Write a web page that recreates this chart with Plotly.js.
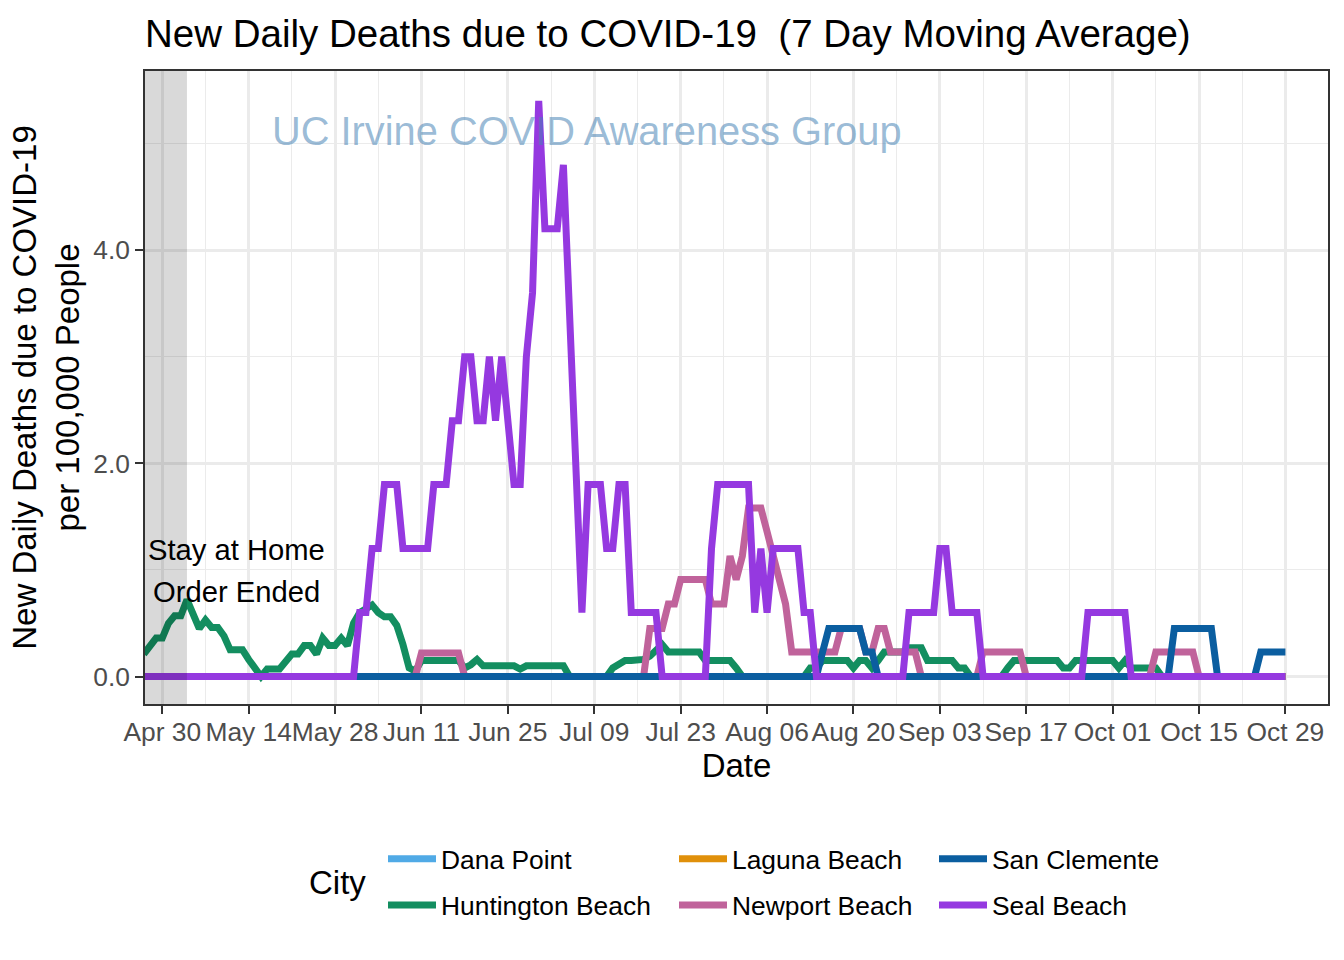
<!DOCTYPE html>
<html>
<head>
<meta charset="utf-8">
<script src="https://cdn.plot.ly/plotly-3.0.1.min.js"></script>
<style>html,body{margin:0;padding:0;background:#fff;}#chart{width:1344px;height:960px;}</style>
</head>
<body>
<div id="chart"></div>
<script>
// ---- data ----
const START_DATE = '2020-04-27';   // first day of the series (7-day moving average)
const N_DAYS = 186;                 // Apr 27 .. Oct 29, 2020

const CITIES = ['Dana Point', 'Huntington Beach', 'Laguna Beach', 'Newport Beach', 'San Clemente', 'Seal Beach'];

const DANA_POINT = [
 0,0,0,0,0,0,0,0,0,0, 0,0,0,0,0,0,0,0,0,0, 0,0,0,0,0,0,0,0,0,0,
 0,0,0,0,0,0,0,0,0,0, 0,0,0,0,0,0,0,0,0,0, 0,0,0,0,0,0,0,0,0,0,
 0,0,0,0,0,0,0,0,0,0, 0,0,0,0,0,0,0,0,0,0, 0,0,0,0,0,0,0,0,0,0,
 0,0,0,0,0,0,0,0,0,0, 0,0,0,0,0,0,0,0,0,0, 0,0,0,0,0,0,0,0,0,0,
 0,0,0,0,0,0,0,0,0,0, 0,0,0,0,0,0,0,0,0,0, 0,0,0,0,0,0,0,0,0,0,
 0,0,0,0,0,0,0,0,0,0, 0,0,0,0,0,0,0,0,0,0, 0,0,0,0,0,0,0,0,0,0,
 0,0,0,0,0,0
];

const HUNTINGTON_BEACH = [
 0.21,0.29,0.36,0.36,0.50,0.57,0.57,0.72,0.60,0.45,
 0.53,0.46,0.46,0.38,0.25,0.25,0.25,0.16,0.08,0,
 0.07,0.07,0.07,0.14,0.21,0.21,0.29,0.29,0.21,0.36,
 0.29,0.29,0.36,0.29,0.50,0.60,0.64,0.67,0.60,0.56,
 0.56,0.48,0.30,0.08,0.05,0.15,0.15,0.15,0.15,0.15,
 0.15,0.15,0.08,0.11,0.16,0.10,0.10,0.10,0.10,0.10,
 0.10,0.07,0.10,0.10,0.10,0.10,0.10,0.10,0.10,0,
 0,0,0,0,0,0,0.08,0.12,0.15,0.15,
 0.15,0.16,0.19,0.25,0.30,0.23,0.23,0.23,0.23,0.23,
 0.23,0.15,0.15,0.15,0.15,0.15,0.08,0,0,0,
 0,0,0,0,0,0,0,0,0.08,0.08,
 0.15,0.15,0.15,0.15,0.15,0.08,0.15,0.15,0.08,0.15,
 0.23,0.23,0.23,0.23,0.27,0.27,0.27,0.15,0.15,0.15,
 0.15,0.15,0.08,0.08,0,0,0,0,0,0,
 0.08,0.15,0.15,0.15,0.15,0.15,0.15,0.15,0.15,0.08,
 0.08,0.15,0.15,0.15,0.15,0.15,0.15,0.15,0.08,0.15,
 0.08,0.08,0.08,0.08,0.08,0,0,0,0,0,
 0,0,0,0,0,0,0,0,0,0,
 0,0,0,0,0,0
];

const LAGUNA_BEACH = [
 0,0,0,0,0,0,0,0,0,0, 0,0,0,0,0,0,0,0,0,0, 0,0,0,0,0,0,0,0,0,0,
 0,0,0,0,0,0,0,0,0,0, 0,0,0,0,0,0,0,0,0,0, 0,0,0,0,0,0,0,0,0,0,
 0,0,0,0,0,0,0,0,0,0, 0,0,0,0,0,0,0,0,0,0, 0,0,0,0,0,0,0,0,0,0,
 0,0,0,0,0,0,0,0,0,0, 0,0,0,0,0,0,0,0,0,0, 0,0,0,0,0,0,0,0,0,0,
 0,0,0,0,0,0,0,0,0,0, 0,0,0,0,0,0,0,0,0,0, 0,0,0,0,0,0,0,0,0,0,
 0,0,0,0,0,0,0,0,0,0, 0,0,0,0,0,0,0,0,0,0, 0,0,0,0,0,0,0,0,0,0,
 0,0,0,0,0,0
];

const NEWPORT_BEACH = [
 0,0,0,0,0,0,0,0,0,0,
 0,0,0,0,0,0,0,0,0,0,
 0,0,0,0,0,0,0,0,0,0,
 0,0,0,0,0,0,0,0,0,0,
 0,0,0,0,0,0.22,0.22,0.22,0.22,0.22,
 0.22,0.22,0,0,0,0,0,0,0,0,
 0,0,0,0,0,0,0,0,0,0,
 0,0,0,0,0,0,0,0,0,0,
 0,0,0.45,0.45,0.45,0.68,0.68,0.91,0.91,0.91,
 0.91,0.91,0.68,0.68,0.68,1.13,0.91,1.13,1.58,1.58,
 1.58,1.36,1.13,0.91,0.68,0.23,0.23,0.23,0.23,0.23,
 0.23,0.23,0.23,0.45,0.45,0.45,0.45,0.23,0.23,0.45,
 0.45,0.23,0.23,0.23,0.23,0.23,0,0,0,0,
 0,0,0,0,0,0,0.23,0.23,0.23,0.23,
 0.23,0.23,0.23,0,0,0,0,0,0,0,
 0,0,0,0,0,0,0,0,0,0,
 0,0,0,0,0.23,0.23,0.23,0.23,0.23,0.23,
 0.23,0,0,0,0,0,0,0,0,0,
 0,0,0,0,0,0
];

const SAN_CLEMENTE = [
 0,0,0,0,0,0,0,0,0,0,
 0,0,0,0,0,0,0,0,0,0,
 0,0,0,0,0,0,0,0,0,0,
 0,0,0,0,0,0,0,0,0,0,
 0,0,0,0,0,0,0,0,0,0,
 0,0,0,0,0,0,0,0,0,0,
 0,0,0,0,0,0,0,0,0,0,
 0,0,0,0,0,0,0,0,0,0,
 0,0,0,0,0,0,0,0,0,0,
 0,0,0,0,0,0,0,0,0,0,
 0,0,0,0,0,0,0,0,0,0,
 0.23,0.45,0.45,0.45,0.45,0.45,0.45,0.23,0.23,0,
 0,0,0,0,0,0,0,0,0,0,
 0,0,0,0,0,0,0,0,0,0,
 0,0,0,0,0,0,0,0,0,0,
 0,0,0,0,0,0,0,0,0,0,
 0,0,0,0,0,0,0,0.45,0.45,0.45,
 0.45,0.45,0.45,0.45,0,0,0,0,0,0,
 0,0.23,0.23,0.23,0.23,0.23
];

const SEAL_BEACH = [
 0,0,0,0,0,0,0,0,0,0,
 0,0,0,0,0,0,0,0,0,0,
 0,0,0,0,0,0,0,0,0,0,
 0,0,0,0,0,0.6,0.6,1.2,1.2,1.8,
 1.8,1.8,1.2,1.2,1.2,1.2,1.2,1.8,1.8,1.8,
 2.4,2.4,3.0,3.0,2.4,2.4,3.0,2.4,3.0,2.4,
 1.8,1.8,3.0,3.6,5.4,4.2,4.2,4.2,4.8,3.4,
 2.0,0.6,1.8,1.8,1.8,1.2,1.2,1.8,1.8,0.6,
 0.6,0.6,0.6,0.6,0,0,0,0,0,0,
 0,0,1.2,1.8,1.8,1.8,1.8,1.8,1.8,0.6,
 1.2,0.6,1.2,1.2,1.2,1.2,1.2,0.6,0.6,0,
 0,0,0,0,0,0,0,0,0,0,
 0,0,0,0,0.6,0.6,0.6,0.6,0.6,1.2,
 1.2,0.6,0.6,0.6,0.6,0.6,0,0,0,0,
 0,0,0,0,0,0,0,0,0,0,
 0,0,0,0.6,0.6,0.6,0.6,0.6,0.6,0.6,
 0,0,0,0,0,0,0,0,0,0,
 0,0,0,0,0,0,0,0,0,0,
 0,0,0,0,0,0
];

const SERIES = [DANA_POINT, HUNTINGTON_BEACH, LAGUNA_BEACH, NEWPORT_BEACH, SAN_CLEMENTE, SEAL_BEACH];

const X_TICK_START = '2020-04-30';
const STAY_HOME_END = '2020-05-04';
const ANNOT_LINES = ['Stay at Home', 'Order Ended'];
const WATERMARK = 'UC Irvine COVID Awareness Group';

// ---- styles ----
const COLORS = ['#50AAE6', '#138E60', '#E0900A', '#C0639B', '#0B5EA0', '#9539E0'];
const LEGEND_OF = ['legend', 'legend', 'legend2', 'legend2', 'legend3', 'legend3'];
const FONT = 'Liberation Sans, Arial, Helvetica, sans-serif';
const DAY = 86400000;

function dateList(start, n) {
  const out = [];
  const t0 = Date.parse(start + 'T00:00:00Z');
  for (let i = 0; i < n; i++) out.push(new Date(t0 + i * DAY).toISOString().slice(0, 10));
  return out;
}
const DATES = dateList(START_DATE, N_DAYS);

const traces = CITIES.map((c, i) => ({
  type: 'scatter', mode: 'lines', name: c, x: DATES, y: SERIES[i],
  line: {color: COLORS[i], width: 7},
  legend: LEGEND_OF[i], legendgroup: 'g' + i, hoverinfo: 'x+y+name'
}));

const legendBase = {
  orientation: 'v', xanchor: 'left', yanchor: 'top', y: -0.207,
  font: {family: FONT, size: 26.4, color: '#000'}, bgcolor: 'rgba(0,0,0,0)',
  itemwidth: 48, tracegroupgap: 9
};

const layout = {
  width: 1344, height: 960,
  margin: {l: 145, r: 16, t: 71, b: 256, pad: 0},
  paper_bgcolor: '#fff', plot_bgcolor: '#fff',
  font: {family: FONT, color: '#000'},
  title: {
    text: 'New Daily Deaths due to COVID-19 \u00a0(7 Day Moving Average)',
    font: {family: FONT, size: 38.5, color: '#000'},
    xref: 'container', x: 145 / 1344, xanchor: 'left',
    yref: 'container', y: 1 - 34 / 960, yanchor: 'middle'
  },
  xaxis: {
    type: 'date',
    range: ['2020-04-27 04:48', '2020-11-04 21:36'],
    tick0: X_TICK_START, dtick: 14 * DAY, tickformat: '%b %d', tickangle: 0,
    ticks: 'outside', ticklen: 8, tickwidth: 1.5, tickcolor: '#333',
    ticklabelstandoff: -4,
    tickfont: {family: FONT, size: 26.4, color: '#4d4d4d'},
    showgrid: true, gridcolor: '#ebebeb', gridwidth: 2.7,
    minor: {tick0: X_TICK_START, dtick: 7 * DAY, showgrid: true, gridcolor: '#ebebeb', gridwidth: 1.4},
    showline: true, mirror: true, linecolor: '#333', linewidth: 1.5, zeroline: false,
    title: {text: 'Date', font: {family: FONT, size: 33, color: '#000'}, standoff: 2}
  },
  yaxis: {
    range: [-0.258, 5.68], tick0: 0, dtick: 2, tickformat: '.1f',
    ticks: 'outside', ticklen: 8, tickwidth: 1.5, tickcolor: '#333',
    tickfont: {family: FONT, size: 26.4, color: '#4d4d4d'},
    showgrid: true, gridcolor: '#ebebeb', gridwidth: 2.7,
    minor: {tick0: 0, dtick: 1, showgrid: true, gridcolor: '#ebebeb', gridwidth: 1.4},
    showline: true, mirror: true, linecolor: '#333', linewidth: 1.5, zeroline: false,
    title: {text: 'New Daily Deaths due to COVID-19<br>per 100,000 People', font: {family: FONT, size: 33, color: '#000'}, standoff: 4}
  },
  shapes: [{
    type: 'rect', xref: 'x', yref: 'paper', x0: '2020-04-01', x1: STAY_HOME_END, y0: 0, y1: 1,
    fillcolor: 'rgba(0,0,0,0.15)', line: {width: 0}, layer: 'above'
  }],
  annotations: [
    {xref: 'x', yref: 'y', x: '2020-05-12', y: 1.187, text: ANNOT_LINES[0], showarrow: false,
     font: {family: FONT, size: 29.2, color: '#000'}, xanchor: 'center', yanchor: 'middle'},
    {xref: 'x', yref: 'y', x: '2020-05-12', y: 0.793, text: ANNOT_LINES[1], showarrow: false,
     font: {family: FONT, size: 29.2, color: '#000'}, xanchor: 'center', yanchor: 'middle'},
    {xref: 'x', yref: 'y', x: '2020-07-07 18:00', y: 5.117, text: WATERMARK, showarrow: false,
     font: {family: FONT, size: 39.8, color: 'rgba(70,130,180,0.55)'}, xanchor: 'center', yanchor: 'middle'},
    {xref: 'paper', yref: 'paper', x: (337 - 145) / 1183, y: (704 - 882) / 633, text: 'City', showarrow: false,
     font: {family: FONT, size: 33, color: '#000'}, xanchor: 'center', yanchor: 'middle'}
  ],
  legend: Object.assign({}, legendBase, {x: (383 - 145) / 1183}),
  legend2: Object.assign({}, legendBase, {x: (674 - 145) / 1183}),
  legend3: Object.assign({}, legendBase, {x: (934 - 145) / 1183}),
  showlegend: true
};

Plotly.newPlot('chart', traces, layout, {displayModeBar: false, responsive: false});
</script>
</body>
</html>
